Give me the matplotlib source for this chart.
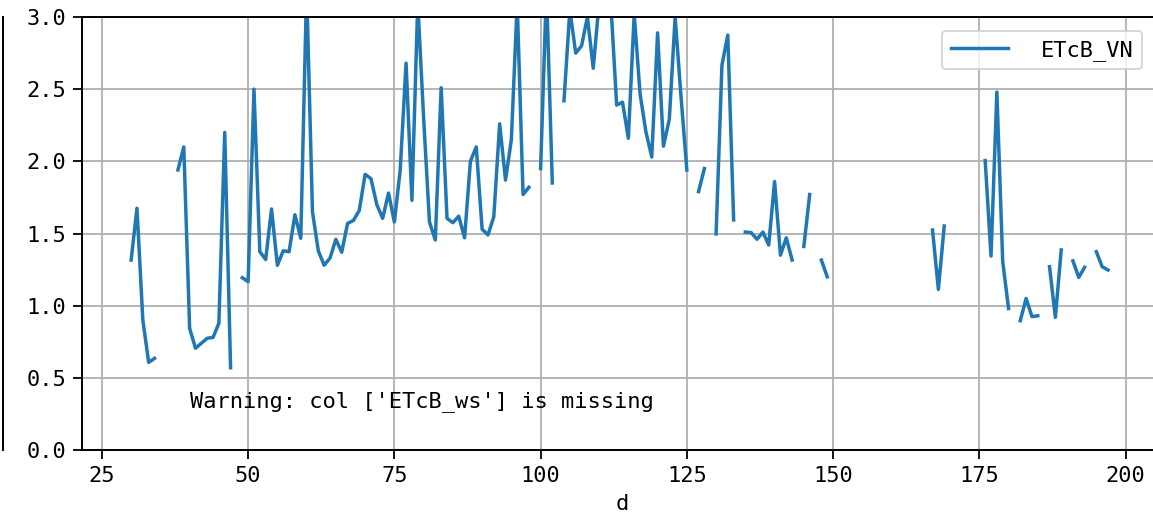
import numpy as np
import matplotlib
matplotlib.use("Agg")
import matplotlib.pyplot as plt
from matplotlib.lines import Line2D

nan = np.nan

# day of year
days = np.arange(30, 198)

# ETcB_VN values (nan = missing)
etcb_vn = [
    1.316, 1.675, 0.900, 0.607, 0.635, nan, nan, nan, 1.940, 2.100,   # 30-39
    0.843, 0.705, 0.740, 0.774, 0.780, 0.878, 2.200, 0.570, nan, 1.194,  # 40-49
    1.166, 2.500, 1.374, 1.320, 1.670, 1.280, 1.380, 1.374, 1.630, 1.467,  # 50-59
    3.200, 1.650, 1.380, 1.280, 1.330, 1.460, 1.370, 1.570, 1.590, 1.660,  # 60-69
    1.910, 1.880, 1.700, 1.605, 1.780, 1.580, 1.940, 2.680, 1.730, 3.100,  # 70-79
    2.300, 1.580, 1.455, 2.510, 1.605, 1.575, 1.620, 1.470, 2.000, 2.100,  # 80-89
    1.530, 1.490, 1.617, 2.260, 1.870, 2.150, 3.100, 1.770, 1.820, nan,    # 90-99
    1.950, 3.200, 1.850, nan, 2.420, 3.050, 2.750, 2.800, 3.000, 2.645,    # 100-109
    3.100, 3.150, 3.100, 2.390, 2.410, 2.160, 3.020, 2.470, 2.205, 2.030,  # 110-119
    2.890, 2.105, 2.290, 3.000, 2.450, 1.940, nan, 1.790, 1.950, nan,      # 120-129
    1.497, 2.667, 2.875, 1.594, nan, 1.510, 1.506, 1.460, 1.510, 1.420,    # 130-139
    1.860, 1.350, 1.470, 1.316, nan, 1.410, 1.770, nan, 1.316, 1.200,      # 140-149
    nan, nan, nan, nan, nan, nan, nan, nan, nan, nan,                      # 150-159
    nan, nan, nan, nan, nan, nan, nan, 1.524, 1.113, 1.552,                # 160-169
    nan, nan, nan, nan, nan, nan, 2.005, 1.344, 2.480, 1.305,              # 170-179
    0.980, nan, 0.896, 1.050, 0.924, 0.930, nan, 1.270, 0.919, 1.386,      # 180-189
    nan, 1.310, 1.196, 1.266, nan, 1.374, 1.270, 1.247,                    # 190-197
]

series_label = "ETcB_VN"
warning_text = "Warning: col ['ETcB_ws'] is missing"
x_ticks = [25, 50, 75, 100, 125, 150, 175, 200]
y_ticks = [0.0, 0.5, 1.0, 1.5, 2.0, 2.5, 3.0]

FS = 15.8
plt.rcParams['font.family'] = ['DejaVu Sans Mono', 'DejaVu Sans']
plt.rcParams['font.size'] = FS

W, H = 1153, 520
fig = plt.figure(figsize=(W / 100, H / 100), dpi=100)
ax_left, ax_right, ax_top, ax_bottom = 82, 1163, 17, 450
ax = fig.add_axes([ax_left / W, 1 - ax_bottom / H,
                   (ax_right - ax_left) / W, (ax_bottom - ax_top) / H])

ax.plot(days, etcb_vn, color='#1f77b4', lw=2.5, label=series_label)

ax.set_xlim(21.6, 206.4)
ax.set_ylim(0, 3.0)
ax.set_xticks(x_ticks)
ax.set_yticks(y_ticks)
ax.set_yticklabels([f"{v:.1f}" for v in y_ticks])
ax.grid(True, color='#b0b0b0', lw=1.3)
ax.set_axisbelow(True)
for s in ax.spines.values():
    s.set_linewidth(1.4)
ax.tick_params(axis='both', length=6.3, width=1.3, labelsize=FS)
ax.tick_params(axis='y', pad=5)
ax.tick_params(axis='x', pad=5)
ax.set_xlabel('d', fontsize=FS, labelpad=6)

ax.text(40, 0.3, warning_text, fontsize=FS)

leg = ax.legend(loc='upper right', bbox_to_anchor=(1142 / W, 1 - 31 / H),
                bbox_transform=fig.transFigure, borderaxespad=0,
                handlelength=2.6, handletextpad=1.5, fontsize=FS,
                framealpha=0.8, edgecolor='#cccccc', fancybox=True)
leg.get_frame().set_linewidth(1.4)

# vertical line at the far left (piece of a neighbouring panel)
fig.add_artist(Line2D([2.5 / W, 2.5 / W], [1 - ax_top / H, 1 - ax_bottom / H],
                      transform=fig.transFigure, color='black', lw=1.4))

fig.savefig('out.png', dpi=100)
